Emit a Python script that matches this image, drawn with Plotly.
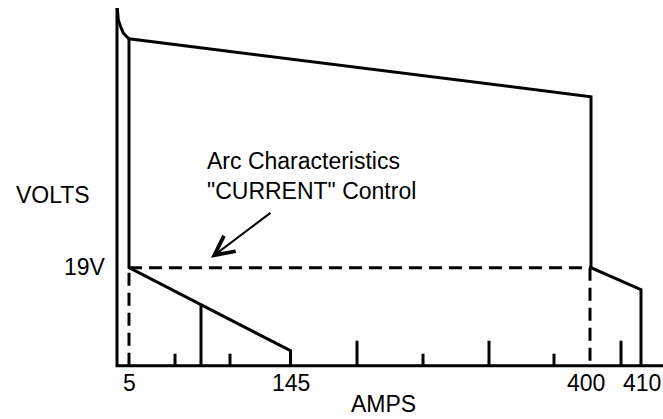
import plotly.graph_objects as go

# ---- schematic values (x: schematic current position, y: schematic voltage position) ----
amp_labels = ["5", "145", "400", "410"]
amp_x = [12, 173.5, 474, 524]
amp_label_x = [12, 173.5, 469, 525]

v19_label = "19V"
v19_y = 98

# open-circuit (static) characteristic: spike, drooping top line, then down to 19V and tail to 410 A
ocv_x = [0.3, 1.3, 3.7, 6.3, 9.7, 12, 474, 474, 524, 524]
ocv_y = [357.7, 345.7, 339, 332.7, 329, 327, 269, 98, 76, 0]

# minimum current curve (5 A line, slope to 145 A)
min_x = [12, 12, 173.5, 173.5]
min_y = [327, 98, 15, 0]

# vertical between slope and axis
mid_x = [84, 84]
mid_y = [0, 60.5]

# dashed "CURRENT control" arc characteristic
dash_x = [12, 12, None, 12, 474, None, 473, 473]
dash_y = [0, 98, None, 98, 98, None, 98, 0]

# axis ticks
small_ticks = [58, 113, 306, 437]
tall_ticks = [240, 372, 504]
small_h = 12
tall_h = 25

y_top = 357.7
x_end = 546

def seg(xs, h):
    X, Y = [], []
    for x in xs:
        X += [x, x, None]
        Y += [0, h, None]
    return X, Y

FONT = "Liberation Sans, Arial, sans-serif"
BLACK = "#000000"
LW = 3

fig = go.Figure()

# axes lines
fig.add_trace(go.Scatter(x=[0, 0, x_end], y=[y_top, 0, 0], mode="lines",
                         line=dict(color=BLACK, width=LW), hoverinfo="skip"))
# ticks
sx, sy = seg(small_ticks, small_h)
tx, ty = seg(tall_ticks, tall_h)
fig.add_trace(go.Scatter(x=sx + tx, y=sy + ty, mode="lines",
                         line=dict(color=BLACK, width=LW), hoverinfo="skip"))
# curves
fig.add_trace(go.Scatter(x=ocv_x, y=ocv_y, mode="lines",
                         line=dict(color=BLACK, width=LW), hoverinfo="skip"))
fig.add_trace(go.Scatter(x=min_x, y=min_y, mode="lines",
                         line=dict(color=BLACK, width=LW), hoverinfo="skip"))
fig.add_trace(go.Scatter(x=mid_x, y=mid_y, mode="lines",
                         line=dict(color=BLACK, width=LW), hoverinfo="skip"))
fig.add_trace(go.Scatter(x=dash_x, y=dash_y, mode="lines",
                         line=dict(color=BLACK, width=LW, dash="13px,7px"), hoverinfo="skip"))

annotations = []
for lab, x in zip(amp_labels, amp_label_x):
    annotations.append(dict(x=x, y=-17.3, text=lab, showarrow=False,
                            xanchor="center", yanchor="middle"))
annotations.append(dict(x=266.5, y=-37.8, text="AMPS", showarrow=False,
                        xanchor="center", yanchor="middle"))
annotations.append(dict(x=-64.5, y=171, text="VOLTS", showarrow=False,
                        xanchor="center", yanchor="middle"))
annotations.append(dict(x=-9, y=v19_y + 1, text=v19_label, showarrow=False,
                        xanchor="right", yanchor="middle"))
annotations.append(dict(x=88, y=190, text="Arc Characteristics<br>\"CURRENT\" Control",
                        showarrow=False, xanchor="left", yanchor="middle", align="left"))
annotations.append(dict(x=94, y=108, ax=155, ay=154, xref="x", yref="y", axref="x", ayref="y",
                        text="", showarrow=True, arrowhead=5, arrowsize=1.9, arrowwidth=2,
                        arrowcolor=BLACK))

fig.update_layout(
    width=663, height=419,
    margin=dict(l=0, r=0, t=0, b=0),
    paper_bgcolor="white", plot_bgcolor="white",
    showlegend=False,
    font=dict(family=FONT, size=23, color=BLACK),
    xaxis=dict(range=[-117, 546], visible=False, fixedrange=True),
    yaxis=dict(range=[-53.3, 365.7], visible=False, fixedrange=True),
    annotations=annotations,
)

fig.write_html("out.html", config={"displayModeBar": False},
               post_script="document.body.style.margin='0';document.body.style.overflow='hidden';")
